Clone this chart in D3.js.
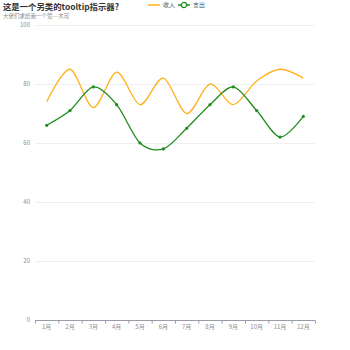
<!DOCTYPE html>
<html>
<head>
<meta charset="utf-8">
<script src="https://cdn.jsdelivr.net/npm/d3@7"></script>
<style>
  body { margin: 0; background: #fff; }
  svg { display: block; font-family: "Noto Sans CJK SC", "Noto Sans", sans-serif; }
</style>
</head>
<body>
<svg id="chart" width="350" height="350"></svg>
<script>
const months = ['1月', '2月', '3月', '4月', '5月', '6月', '7月', '8月', '9月', '10月', '11月', '12月']
const income = [74, 85, 72, 84, 73, 82, 70, 80, 73, 81, 85, 82]
const expense = [66, 71, 79, 73, 60, 58, 65, 73, 79, 71, 62, 69]
const yTicks = [0, 20, 40, 60, 80, 100]

const INCOME_COLOR = '#ffb21e'
const EXPENSE_COLOR = '#1f8c1f'
const AXIS_COLOR = '#9a9aa8'
const LABEL_COLOR = '#8c8c8c'
const GRID_COLOR = '#eeeef4'

const margin = { top: 25, right: 35, bottom: 30, left: 35 }
const width = 350, height = 350

const svg = d3.select('#chart')

const x = d3.scaleBand()
  .domain(months)
  .range([margin.left, width - margin.right])

const y = d3.scaleLinear()
  .domain([0, 100])
  .range([height - margin.bottom, margin.top])

// horizontal grid
svg.append('g')
  .selectAll('line')
  .data(yTicks.filter(d => d > 0))
  .join('line')
  .attr('x1', margin.left)
  .attr('x2', width - margin.right)
  .attr('y1', d => y(d) + 0.5)
  .attr('y2', d => y(d) + 0.5)
  .attr('stroke', GRID_COLOR)
  .attr('stroke-width', 1)

// y labels
svg.append('g')
  .selectAll('text')
  .data(yTicks)
  .join('text')
  .attr('x', margin.left - 5)
  .attr('y', d => y(d))
  .attr('dy', '0.35em')
  .attr('text-anchor', 'end')
  .attr('font-size', 6)
  .attr('fill', LABEL_COLOR)
  .text(d => d)

// x axis
const xAxisG = svg.append('g')
  .attr('transform', `translate(0, ${y(0) + 0.5})`)

xAxisG.append('line')
  .attr('x1', margin.left)
  .attr('x2', width - margin.right)
  .attr('stroke', AXIS_COLOR)

const boundaries = months.map(m => x(m)).concat([x(months[months.length - 1]) + x.bandwidth()])
xAxisG.selectAll('line.tick')
  .data(boundaries)
  .join('line')
  .attr('class', 'tick')
  .attr('x1', d => d + 0.5)
  .attr('x2', d => d + 0.5)
  .attr('y1', 0)
  .attr('y2', 3)
  .attr('stroke', AXIS_COLOR)

xAxisG.selectAll('text')
  .data(months)
  .join('text')
  .attr('x', d => x(d) + x.bandwidth() / 2)
  .attr('y', 8)
  .attr('text-anchor', 'middle')
  .attr('font-size', 6)
  .attr('fill', LABEL_COLOR)
  .text(d => d)

const cx = (d, i) => x(months[i]) + x.bandwidth() / 2
const line = d3.line()
  .x(cx)
  .y(d => y(d))
  .curve(d3.curveCardinal.tension(0.1))

svg.append('path')
  .datum(income)
  .attr('fill', 'none')
  .attr('stroke', INCOME_COLOR)
  .attr('stroke-width', 1.3)
  .attr('d', line)

svg.append('path')
  .datum(expense)
  .attr('fill', 'none')
  .attr('stroke', EXPENSE_COLOR)
  .attr('stroke-width', 1.3)
  .attr('d', line)

svg.append('g')
  .selectAll('circle')
  .data(expense)
  .join('circle')
  .attr('cx', cx)
  .attr('cy', d => y(d))
  .attr('r', 1.6)
  .attr('fill', EXPENSE_COLOR)

// title
svg.append('text')
  .attr('x', 3)
  .attr('y', 10)
  .attr('font-size', 8.4)
  .attr('font-weight', 700)
  .attr('fill', '#333')
  .text('这是一个另类的tooltip指示器?')

svg.append('text')
  .attr('x', 3)
  .attr('y', 17.5)
  .attr('font-size', 5.5)
  .attr('fill', '#888')
  .text('大佬们求给我一个赞---木可')

// legend
const legend = svg.append('g').attr('transform', 'translate(148, 5)')
legend.append('line')
  .attr('x1', 0).attr('x2', 12)
  .attr('stroke', INCOME_COLOR).attr('stroke-width', 1.5)
legend.append('text')
  .attr('x', 15).attr('dy', '0.35em')
  .attr('font-size', 6).attr('fill', '#555')
  .text('收入')

legend.append('line')
  .attr('x1', 30).attr('x2', 42)
  .attr('stroke', EXPENSE_COLOR).attr('stroke-width', 1.5)
legend.append('circle')
  .attr('cx', 36).attr('r', 2.6)
  .attr('fill', '#fff').attr('stroke', EXPENSE_COLOR).attr('stroke-width', 1.2)
legend.append('text')
  .attr('x', 45).attr('dy', '0.35em')
  .attr('font-size', 6).attr('fill', '#555')
  .text('支出')
</script>
</body>
</html>
